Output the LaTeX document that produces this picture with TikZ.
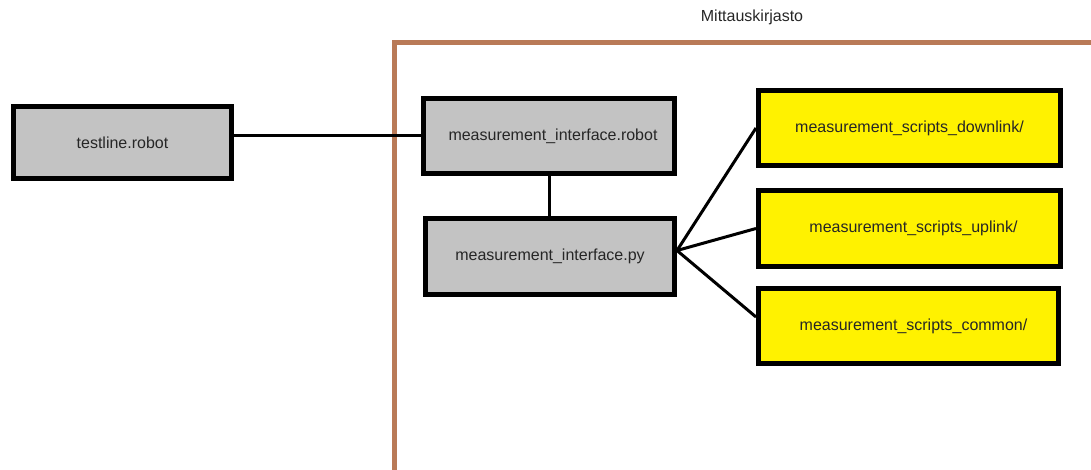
\documentclass[tikz,border=0pt]{standalone}
\usepackage{fontspec}
\setmainfont{Liberation Sans}
\definecolor{filegray}{HTML}{C3C3C3}
\definecolor{diryellow}{HTML}{FFF200}
\definecolor{framebrown}{HTML}{B97A57}
\begin{document}
\begin{tikzpicture}[x=1pt,y=-1pt,
  filebox/.style={draw=black, line width=5pt, fill=filegray, inner sep=0pt,
    font=\fontsize{16}{19}\selectfont, text=black!85},
  dirbox/.style={filebox, fill=diryellow},
  link/.style={draw=black, line width=3pt},
  libframe/.style={draw=framebrown, line width=5pt}]
\useasboundingbox (0,0) rectangle (1091,470);

% library frame, open to the right and bottom
\draw[libframe] (394.5,470) -- (394.5,42.5) -- (1091,42.5);
\node[font=\fontsize{16}{19}\selectfont, text=black!85] (title) at (752,17) {Mittauskirjasto};

% files
\node[filebox, minimum width=218pt, minimum height=72pt] (tl) at (122.5,142.5) {testline.robot};
\node[filebox, minimum width=251pt, minimum height=75pt] (mr) at (549,136) {\hspace{8pt}measurement\_interface.robot};
\node[filebox, minimum width=249pt, minimum height=76pt] (py) at (550,256.5) {measurement\_interface.py};

% script directories
\node[dirbox, minimum width=302pt, minimum height=75pt] (dl) at (909.5,128) {measurement\_scripts\_downlink/};
\node[dirbox, minimum width=302pt, minimum height=76pt] (ul) at (909.5,228.5) {\hspace{8pt}measurement\_scripts\_uplink/};
\node[dirbox, minimum width=300pt, minimum height=75pt] (cm) at (908.5,326) {\hspace{10pt}measurement\_scripts\_common/};

% connectors
\draw[link] (tl.east |- mr.west) -- (mr.west);
\draw[link] (mr.south) -- (mr.south |- py.north);
\draw[link] ([yshift=6pt]py.east) -- (dl.west);
\draw[link] ([yshift=6pt]py.east) -- (ul.west);
\draw[link] ([yshift=6pt]py.east) -- ([yshift=9pt]cm.west);
\end{tikzpicture}
\end{document}
